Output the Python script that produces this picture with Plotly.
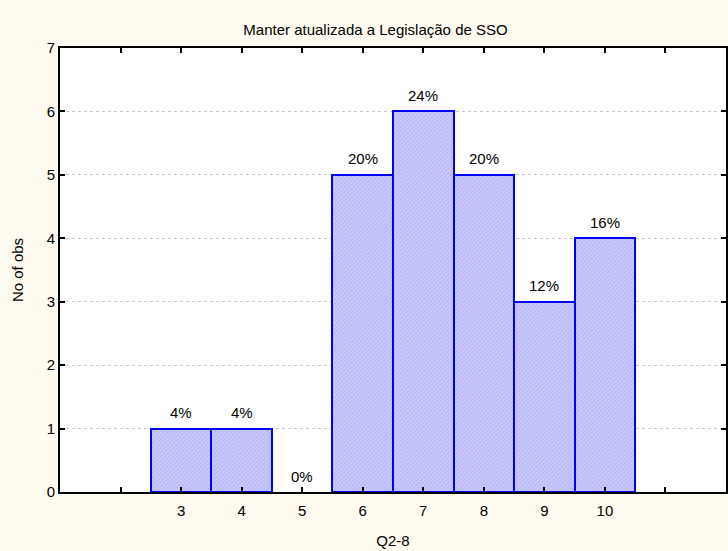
import plotly.graph_objects as go

categories = [3, 4, 5, 6, 7, 8, 9, 10]
counts = [1, 1, 0, 5, 6, 5, 3, 4]
percent_labels = ["4%", "4%", "0%", "20%", "24%", "20%", "12%", "16%"]
x_tick_vals = [2, 3, 4, 5, 6, 7, 8, 9, 10, 11]
x_tick_text = ["", "3", "4", "5", "6", "7", "8", "9", "10", ""]
y_tick_vals = [0, 1, 2, 3, 4, 5, 6, 7]

line_widths = [2 if c > 0 else 0 for c in counts]
FONT = "Arial, Liberation Sans"

fig = go.Figure()
fig.add_trace(go.Bar(
    x=categories, y=counts, width=1,
    marker=dict(
        color="#C4C4FA",
        line=dict(color="#0000FF", width=line_widths),
        pattern=dict(shape="/", bgcolor="#CACAFC", fgcolor="#9C9CEA", size=3, solidity=0.35),
    ),
    hoverinfo="skip", showlegend=False,
))

label_font = dict(family=FONT, size=15, color="#000000")
for cx, cy, lab in zip(categories, counts, percent_labels):
    fig.add_annotation(x=cx, y=cy, text=lab, showarrow=False, yanchor="middle",
                       yshift=16, font=label_font)

axis_font = dict(family=FONT, size=15, color="#000000")
fig.update_layout(
    width=728, height=551,
    margin=dict(l=60, r=0, t=48, b=59),
    paper_bgcolor="#FFFBF0", plot_bgcolor="#FFFFFF",
    bargap=0,
    title=dict(text="Manter atualizada a Legislação de SSO", x=375.5 / 728, xanchor="center",
               y=1 - 30 / 551, yanchor="middle",
               font=dict(family=FONT, size=15, color="#000000")),
    xaxis=dict(range=[1, 12], tickvals=x_tick_vals, ticktext=x_tick_text,
               ticks="inside", ticklen=5, tickwidth=2, tickcolor="#000000",
               showline=True, linecolor="#000000", linewidth=2, mirror="ticks",
               showgrid=False, zeroline=False, tickfont=axis_font, ticklabelstandoff=4,
               title=dict(text="Q2-8", font=axis_font, standoff=17)),
    yaxis=dict(range=[0, 7], tickvals=y_tick_vals,
               ticks="inside", ticklen=5, tickwidth=2, tickcolor="#000000",
               showline=True, linecolor="#000000", linewidth=2, mirror="ticks",
               showgrid=True, gridcolor="#C8C8C8", griddash="dot", gridwidth=1,
               zeroline=False, tickfont=axis_font,
               title=dict(text="No of obs", font=axis_font, standoff=19)),
    font=dict(family=FONT),
)

fig.write_html("out.html", config={"displayModeBar": False},
               post_script="document.body.style.margin='0';document.body.style.background='#FFFBF0';")
